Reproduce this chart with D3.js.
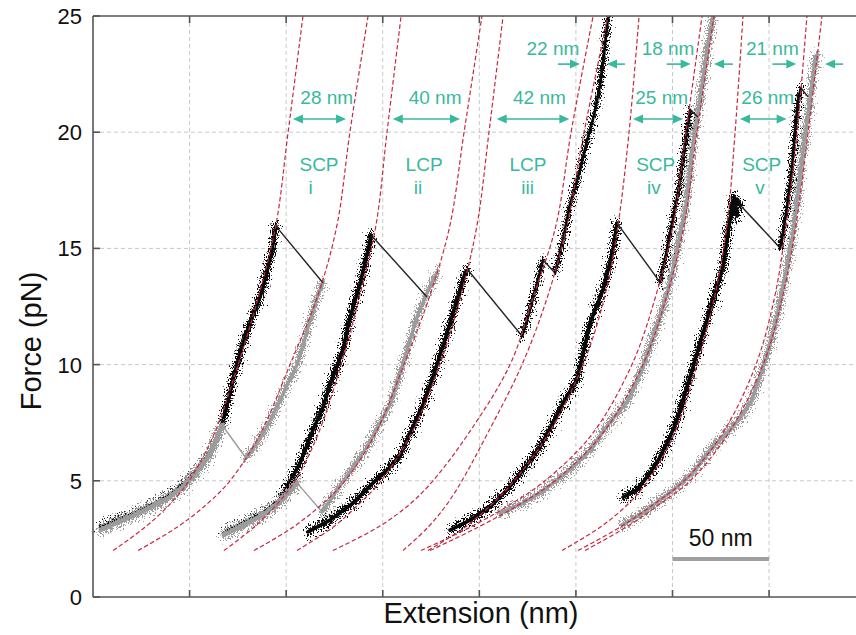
<!DOCTYPE html>
<html><head><meta charset="utf-8">
<script src="https://cdn.jsdelivr.net/npm/d3@7"></script>
<style>body{margin:0;background:#fff}</style>
</head><body>
<svg id="c" width="856" height="635"></svg>
<script>
// ---------- axes ----------
const forceTicks = [0, 5, 10, 15, 20, 25];
const gridNm = [50, 100, 150, 200, 250, 300, 350];

// ---------- WLC fit curves: extension (nm) at these forces (pN) ----------
const fitForces = [2, 3, 4, 5, 7, 10, 13, 16, 20, 25];
const fitIFold  = [10.4, 26.9, 39.9, 49.7, 62.6, 75.1, 85.9, 94.7, 101.0, 108.7];
const fitIUnf   = [23.3, 43.5, 59.0, 70.9, 86.5, 102.0, 116.5, 126.3, 133.0, 142.4];
const fitIIFold = [67.8, 83.3, 95.3, 104.6, 116.5, 128.4, 138.2, 146.5, 152.2, 159.5];
const fitIIUnf  = [83.3, 103.5, 118.6, 130.5, 146.0, 161.0, 174.5, 184.8, 192.1, 201.4];
const fitIIIFold= [105.6, 124.2, 137.7, 149.1, 164.6, 179.6, 190.5, 198.8, 205.0, 212.3];
const fitIIIInt = [124.2, 147.5, 164.1, 176.0, 194.1, 215.9, 228.3, 239.7, 247.5, 258.9];
const fitIIIFin = [160.5, 173.4, 183.3, 191.0, 204.0, 222.1, 235.6, 245.4, 254.2, 266.6];
const fitIVFold = [173.4, 192.6, 206.6, 218.0, 235.6, 253.7, 265.1, 271.8, 277.5, 282.7];
const fitIVInt  = [169.8, 195.2, 216.4, 234.0, 258.3, 279.0, 291.5, 300.3, 307.0, 315.3];
const fitIVFin  = [174.5, 199.3, 221.1, 239.2, 263.5, 284.7, 297.2, 306.0, 312.7, 321.5];
const fitVFold  = [242.8, 262.5, 277.0, 287.3, 300.8, 312.7, 322.0, 328.2, 332.4, 336.5];
const fitVInt   = [251.1, 272.8, 290.4, 306.0, 325.6, 343.2, 353.1, 358.8, 364.5, 369.6];
const fitVFin   = [254.7, 275.9, 293.5, 309.1, 328.7, 346.9, 357.2, 363.9, 370.2, 377.4];

// ---------- measured traces: [extension nm, force pN] ----------
const traceIBlack = [[4.1,3.01],[12.4,3.31],[20.7,3.57],[29.5,3.92],[38.3,4.30],[46.6,4.82],[53.8,5.46],[59.0,6.02],[63.2,6.67],[66.8,7.40],[70.4,8.61],[74.0,9.85],[78.2,11.06],[82.3,12.01],[86.5,12.91],[89.6,13.86],[92.7,14.93],[94.7,15.96]];
const ripIBlack = [[94.7,15.96],[119.1,13.51]];
const traceIGreyA = [[4.1,2.9],[12.4,3.2],[20.7,3.5],[29.5,3.85],[38.3,4.22],[46.6,4.74],[53.8,5.38],[59.0,5.95],[63.2,6.6],[66.8,7.4]];
const ripIGrey = [[66.8,7.40],[79.2,5.98]];
const traceIGreyB = [[79.2,5.98],[84.4,6.54],[89.6,7.27],[95.8,8.26],[101.0,9.21],[105.6,9.98],[109.2,10.97],[112.9,12.05],[116.0,12.87],[119.1,13.55]];

const traceIIBlack = [[67.8,2.75],[77.7,3.18],[88.0,3.61],[96.8,4.17],[102.0,4.95],[107.2,5.77],[113.9,7.19],[119.1,8.18],[122.7,9.12],[129.4,10.63],[133.0,12.01],[138.2,13.47],[142.4,14.93],[143.9,15.58]];
const ripIIBlack = [[143.9,15.58],[172.9,12.91]];
const traceIIGreyA = [[67.8,2.67],[77.7,3.1],[88.0,3.53],[96.8,4.1],[105.6,4.91]];
const ripIIGrey = [[105.6,4.91],[118.6,3.66]];
const traceIIGreyB = [[118.6,3.66],[126.3,4.60],[134.6,5.59],[141.8,6.45],[148.6,7.49],[153.8,8.26],[157.4,9.21],[162.6,10.63],[167.7,12.05],[172.9,13.08],[178.1,13.98]];

const traceIIIBlackA = [[111.3,2.80],[122.7,3.31],[134.6,4.04],[145.0,4.91],[152.2,5.46],[158.9,6.07],[165.7,7.32],[170.8,8.26],[176.0,9.47],[183.3,11.36],[188.4,12.78],[192.6,13.94],[194.1,14.07]];
const ripIIIBlackA = [[194.1,14.07],[222.1,11.23]];
const traceIIIBlackB = [[222.1,11.23],[225.2,12.05],[229.9,13.51],[233.0,14.50]];
const ripIIIBlackB = [[233.0,14.50],[239.2,13.94]];
const traceIIIBlackC = [[239.2,13.94],[243.3,15.36],[246.9,16.87],[252.1,18.37],[255.2,19.45],[259.4,20.74],[262.5,22.03],[264.5,23.32],[266.6,24.91]];

const traceIVBlackA = [[184.8,2.88],[195.2,3.31],[205.5,3.87],[214.3,4.60],[222.6,5.46],[231.4,6.45],[238.1,7.49],[243.3,8.35],[250.6,9.34],[257.3,11.79],[264.0,13.21],[269.2,14.93],[271.3,16.09]];
const ripIVBlackA = [[271.3,16.09],[293.5,13.55]];
const traceIVBlackB = [[293.5,13.55],[296.1,14.50],[298.7,15.66],[301.3,16.65],[303.9,17.94],[306.5,19.54],[309.1,20.96]];
const ripIVBlackB = [[309.1,20.96],[313.2,20.65]];
const traceIVGrey = [[210.7,3.61],[222.6,4.04],[231.4,4.48],[240.2,5.03],[248.5,5.59],[257.3,6.33],[267.6,7.53],[276.5,8.39],[284.7,9.90],[293.5,12.05],[298.7,13.51],[302.3,14.93],[307.5,17.08],[310.1,19.23],[314.2,21.39],[317.9,23.54],[321.0,24.96]];

const traceVBlackA = [[274.4,4.30],[281.6,4.60],[288.4,5.34],[293.5,6.02],[298.7,6.88],[302.3,7.62],[306.5,8.78],[310.6,9.90],[315.8,11.36],[321.0,12.78],[326.2,14.20],[328.7,15.66],[331.3,17.08],[333.5,16.4],[332.0,17.2],[335.0,16.87]];
const ripVBlackA = [[335.0,16.87],[355.7,15.02]];
const traceVBlackB = [[355.7,15.02],[357.2,15.66],[359.8,17.08],[361.9,18.50],[363.4,19.97],[365.0,21.39],[366.5,21.90]];
const ripVBlackB = [[366.5,21.90],[370.2,21.52]];
const traceVGrey = [[273.9,3.10],[284.7,3.61],[293.5,4.17],[302.3,4.73],[310.6,5.34],[319.4,6.33],[328.2,7.06],[335.0,7.70],[341.2,8.48],[348.9,10.41],[354.1,12.05],[359.3,14.20],[362.4,15.66],[364.5,17.08],[367.6,19.23],[371.2,21.39],[373.8,23.11],[374.8,23.32]];

// ---------- annotations ----------
const spanLabels   = ["28 nm", "40 nm", "42 nm", "25 nm", "26 nm"];
const spanFrom     = [103.5, 155.2, 209.0, 279.6, 334.9];
const spanTo       = [131.0, 190.0, 246.6, 305.4, 359.1];
const spanLabelX   = [121.0, 177.1, 231.1, 294.4, 349.3];
const gapLabels    = ["22 nm", "18 nm", "21 nm"];
const gapLeftFrom  = [240.7, 297.0, 351.7];
const gapLeftTo    = [252.1, 309.4, 364.1];
const gapRightFrom = [275.4, 331.3, 388.3];
const gapRightTo   = [266.1, 321.5, 379.0];
const gapLabelX    = [238.1, 297.7, 351.7];
const typeLabels   = ["SCP", "LCP", "LCP", "SCP", "SCP"];
const typeX        = [117.0, 171.4, 225.2, 291.3, 346.2];
const romanLabels  = ["i", "ii", "iii", "iv", "v"];
const romanX       = [112.7, 168.3, 225.0, 290.4, 345.3];
const scaleBarNm   = [300, 350];

// ---------- drawing ----------
const L = 93, R = 856, T = 16, B = 597;
const x = d3.scaleLinear().domain([0, 395]).range([L, R]);
const y = d3.scaleLinear().domain([0, 25]).range([B, T]);
const svg = d3.select("#c");
const FONT = "'Liberation Sans', Arial, Helvetica, sans-serif";
const TEAL = "#38b99b";

const defs = svg.append("defs");
defs.append("clipPath").attr("id", "clip").append("rect")
  .attr("x", L).attr("y", T).attr("width", R - L).attr("height", B - T);
// texture filter: roughens a copy of each trace stroke so it reads as a raw recording
const f = defs.append("filter").attr("id", "rough").attr("filterUnits", "userSpaceOnUse")
  .attr("x", 0).attr("y", 0).attr("width", 856).attr("height", 635)
  .attr("color-interpolation-filters", "sRGB");
f.append("feTurbulence").attr("type", "fractalNoise").attr("baseFrequency", "0.85 0.6")
  .attr("numOctaves", 2).attr("seed", 5).attr("result", "n");
f.append("feColorMatrix").attr("in", "n").attr("type", "matrix")
  .attr("values", "1.6 0 0 0 -0.3  0 2.8 0 0 -0.9  0 0 0 0 0  0 0 0 0 1").attr("result", "m");
f.append("feDisplacementMap").attr("in", "SourceGraphic").attr("in2", "m").attr("scale", 11)
  .attr("xChannelSelector", "R").attr("yChannelSelector", "G");

// grid
const grid = svg.append("g");
grid.selectAll(".gv").data(gridNm).join("line")
  .attr("x1", d => x(d)).attr("x2", d => x(d)).attr("y1", T).attr("y2", B)
  .attr("stroke", "#c8c8c8").attr("stroke-width", 1).attr("stroke-dasharray", "4,3");
grid.selectAll(".gh").data(forceTicks.filter(d => d > 0 && d < 25)).join("line")
  .attr("x1", L).attr("x2", R).attr("y1", d => y(d)).attr("y2", d => y(d))
  .attr("stroke", "#c8c8c8").attr("stroke-width", 1).attr("stroke-dasharray", "4,3");

const plot = svg.append("g").attr("clip-path", "url(#clip)");
const line = d3.line().x(d => x(d[0])).y(d => y(d[1]));

function trace(data, color, w) {
  const g = plot.append("g");
  g.append("path").datum(data).attr("d", line).attr("fill", "none")
    .attr("stroke", color).attr("stroke-width", w * 0.6)
    .attr("stroke-linejoin", "round").attr("stroke-linecap", "round");
  g.append("g").attr("filter", "url(#rough)")
    .append("path").datum(data).attr("d", line).attr("fill", "none")
    .attr("stroke", color).attr("stroke-width", w)
    .attr("stroke-linejoin", "round").attr("stroke-linecap", "round");
}
function rip(data, color) {
  plot.append("path").datum(data).attr("d", line).attr("fill", "none")
    .attr("stroke", color).attr("stroke-width", 1.4);
}

const BLACK = "#0a0a0a", GREY = "#9c9c9c";
// set i
trace(traceIBlack, BLACK, 6);
trace(traceIGreyA, GREY, 7.5);
rip(ripIGrey, GREY);
trace(traceIGreyB, GREY, 5.5);
rip(ripIBlack, "#222");
// set ii
trace(traceIIBlack, BLACK, 6);
trace(traceIIGreyA, GREY, 7.5);
rip(ripIIGrey, GREY);
trace(traceIIGreyB, GREY, 5.5);
rip(ripIIBlack, "#222");
// set iii
trace(traceIIIBlackA, BLACK, 6);
rip(ripIIIBlackA, "#222");
trace(traceIIIBlackB, BLACK, 4.5);
rip(ripIIIBlackB, "#222");
trace(traceIIIBlackC, BLACK, 4.5);
// set iv
trace(traceIVGrey, GREY, 6);
trace(traceIVBlackA, BLACK, 6);
rip(ripIVBlackA, "#222");
trace(traceIVBlackB, BLACK, 4.5);
rip(ripIVBlackB, "#222");
// set v
trace(traceVGrey, GREY, 6);
trace(traceVBlackA, BLACK, 6);
rip(ripVBlackA, "#222");
trace(traceVBlackB, BLACK, 4.5);
rip(ripVBlackB, "#222");

// fits
const fits = [fitIFold, fitIUnf, fitIIFold, fitIIUnf, fitIIIFold, fitIIIInt, fitIIIFin,
              fitIVFold, fitIVInt, fitIVFin, fitVFold, fitVInt, fitVFin];
const fitLine = d3.line().x(d => x(d[0])).y(d => y(d[1])).curve(d3.curveCatmullRom);
fits.forEach(ext => {
  const pts = ext.map((e, i) => [e, fitForces[i]]);
  plot.append("path").datum(pts).attr("d", fitLine).attr("fill", "none")
    .attr("stroke", "#c8283f").attr("stroke-width", 1.2).attr("stroke-dasharray", "4.5,2.5");
});

// axes
const ax = svg.append("g").attr("stroke", "#555").attr("stroke-width", 1.6);
ax.append("line").attr("x1", L).attr("x2", L).attr("y1", T).attr("y2", B);
ax.append("line").attr("x1", L).attr("x2", R).attr("y1", B).attr("y2", B);
ax.append("line").attr("x1", L).attr("x2", R).attr("y1", T).attr("y2", T);
ax.selectAll(".tl").data(forceTicks).join("line")
  .attr("x1", L).attr("x2", L + 7).attr("y1", d => y(d)).attr("y2", d => y(d));
ax.selectAll(".tb").data(gridNm).join("line")
  .attr("x1", d => x(d)).attr("x2", d => x(d)).attr("y1", B).attr("y2", B - 7);
ax.selectAll(".tt").data(gridNm).join("line")
  .attr("x1", d => x(d)).attr("x2", d => x(d)).attr("y1", T).attr("y2", T + 7);

svg.selectAll(".ylab").data(forceTicks).join("text")
  .attr("x", 82).attr("y", d => y(d)).attr("dy", "0.36em").attr("text-anchor", "end")
  .attr("font-family", FONT).attr("font-size", 22).attr("fill", "#111").text(d => d);

svg.append("text").attr("transform", `translate(41,341) rotate(-90)`)
  .attr("text-anchor", "middle").attr("font-family", FONT).attr("font-size", 29)
  .attr("fill", "#111").text("Force (pN)");
svg.append("text").attr("x", 481).attr("y", 623)
  .attr("text-anchor", "middle").attr("font-family", FONT).attr("font-size", 29)
  .attr("fill", "#111").text("Extension (nm)");

// arrows
const ann = svg.append("g");
function head(px, py, dir) {
  const Lh = 10, Wh = 4.5;
  ann.append("path")
    .attr("d", `M${px},${py} L${px - dir * Lh},${py - Wh} L${px - dir * Lh},${py + Wh} Z`)
    .attr("fill", TEAL);
}
function arrowLine(x1, x2, py) {
  ann.append("line").attr("x1", x1).attr("x2", x2).attr("y1", py).attr("y2", py)
    .attr("stroke", TEAL).attr("stroke-width", 1.6);
}
const spanF = 20.57, spanLabelF = 21.21, gapF = 22.93, gapLabelF = 23.32;
spanFrom.forEach((s, i) => {
  const a = x(s), b = x(spanTo[i]), py = y(spanF);
  arrowLine(a + 4, b - 4, py);
  head(a, py, -1); head(b, py, 1);
  ann.append("text").attr("x", x(spanLabelX[i])).attr("y", y(spanLabelF))
    .attr("text-anchor", "middle").attr("font-family", FONT).attr("font-size", 19)
    .attr("fill", TEAL).text(spanLabels[i]);
});
gapLeftFrom.forEach((s, i) => {
  const py = y(gapF);
  const a1 = x(s), a2 = x(gapLeftTo[i]);
  arrowLine(a1, a2 - 4, py); head(a2, py, 1);
  const b1 = x(gapRightFrom[i]), b2 = x(gapRightTo[i]);
  arrowLine(b1, b2 + 4, py); head(b2, py, -1);
  ann.append("text").attr("x", x(gapLabelX[i])).attr("y", y(gapLabelF))
    .attr("text-anchor", "middle").attr("font-family", FONT).attr("font-size", 19)
    .attr("fill", TEAL).text(gapLabels[i]);
});
typeLabels.forEach((t, i) => {
  ann.append("text").attr("x", x(typeX[i])).attr("y", y(18.33))
    .attr("text-anchor", "middle").attr("font-family", FONT).attr("font-size", 19)
    .attr("fill", TEAL).text(t);
  ann.append("text").attr("x", x(romanX[i])).attr("y", y(17.34))
    .attr("text-anchor", "middle").attr("font-family", FONT).attr("font-size", 19)
    .attr("fill", TEAL).text(romanLabels[i]);
});

// scale bar
svg.append("line").attr("x1", x(scaleBarNm[0])).attr("x2", x(scaleBarNm[1]))
  .attr("y1", y(1.64)).attr("y2", y(1.64)).attr("stroke", "#a0a0a0").attr("stroke-width", 4);
svg.append("text").attr("x", x((scaleBarNm[0] + scaleBarNm[1]) / 2)).attr("y", y(2.19))
  .attr("text-anchor", "middle").attr("font-family", FONT).attr("font-size", 23)
  .attr("fill", "#111").text((scaleBarNm[1] - scaleBarNm[0]) + " nm");
</script>
</body></html>
